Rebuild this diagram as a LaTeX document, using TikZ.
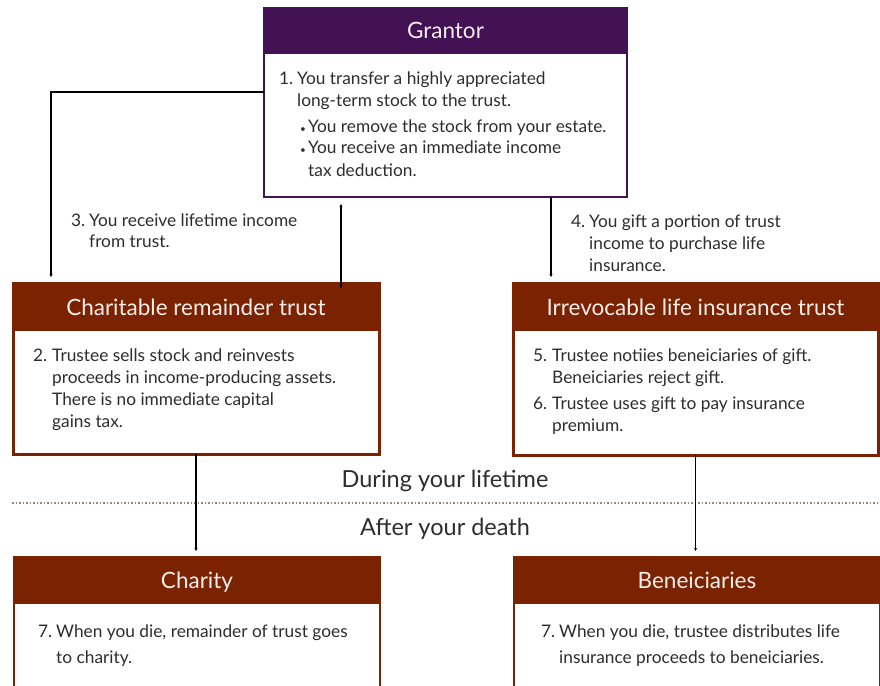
\documentclass[tikz,border=0pt]{standalone}
\usepackage{fontspec}
\setmainfont{Lato}
\usetikzlibrary{arrows.meta,calc}
\definecolor{plum}{RGB}{66,18,85}
\definecolor{rust}{RGB}{123,34,0}
\definecolor{ink}{RGB}{45,45,45}
\definecolor{dotc}{RGB}{150,135,120}
\definecolor{hdtext}{RGB}{245,238,236}
\begin{document}
\begin{tikzpicture}[x=1pt,y=-1pt,
  box/.style={rectangle, anchor=north west, inner sep=0pt, outer sep=0pt, fill=white},
  hdr/.style={rectangle, fill=#1, draw=#1, anchor=north west, inner sep=0pt, outer sep=0pt,
    text=hdtext, font=\fontsize{22.5}{26}\selectfont, text height=18pt, text depth=1pt},
  body/.style={anchor=base west, inner sep=0pt, text=ink, font=\fontsize{17.3}{22}\selectfont},
  mid/.style={anchor=base, inner sep=0pt, text=ink, font=\fontsize{23.5}{26}\selectfont},
  conn/.style={draw=black, line width=1.2pt, shorten >=6pt, -{Stealth[length=3pt,width=3pt]}},
]
\useasboundingbox (0,0) rectangle (880,685);
\clip (0,0) rectangle (880,685);
\fill[white] (0,0) rectangle (880,685);

% Grantor
\node[box, draw=plum, line width=1.5pt, minimum width=363pt, minimum height=189pt] (grant) at (264,8) {};
\node[hdr=plum, minimum width=363pt, minimum height=45pt] (granth) at (264,8) {Grantor};
\node[body] (grantt) at (279,84) {\begin{tabular}[t]{@{}p{18pt}@{}l@{}}
1. & You transfer a highly appreciated\\
   & long-term stock to the trust.\\[4pt]
   & \hspace*{3pt}\makebox[8pt][l]{\fontsize{10}{10}\selectfont\textbullet}You remove the stock from your estate.\\
   & \hspace*{3pt}\makebox[8pt][l]{\fontsize{10}{10}\selectfont\textbullet}You receive an immediate income\\
   & \hspace*{11pt}tax deduction.
\end{tabular}};

% Charitable remainder trust
\node[box, draw=rust, line width=3pt, minimum width=366pt, minimum height=171pt] (crt) at (13,283) {};
\node[hdr=rust, minimum width=366pt, minimum height=47pt] (crth) at (13,283) {Charitable remainder trust};
\node[body] (crtt) at (33,361) {\begin{tabular}[t]{@{}p{19pt}@{}l@{}}
2. & Trustee sells stock and reinvests\\
   & proceeds in income-producing assets.\\
   & There is no immediate capital\\
   & gains tax.
\end{tabular}};

% Irrevocable life insurance trust
\node[box, draw=rust, line width=3pt, minimum width=365pt, minimum height=172pt] (ilit) at (513,283) {};
\node[hdr=rust, minimum width=365pt, minimum height=47pt] (ilith) at (513,283) {Irrevocable life insurance trust};
\node[body] (ilitt) at (533,361) {\begin{tabular}[t]{@{}p{19pt}@{}l@{}}
5. & Trustee notiies beneiciaries of gift.\\
   & Beneiciaries reject gift.\\[4pt]
6. & Trustee uses gift to pay insurance\\
   & premium.
\end{tabular}};

% Charity
\node[box, draw=rust, line width=2pt, minimum width=366pt, minimum height=135pt] (charity) at (14,557) {};
\node[hdr=rust, minimum width=366pt, minimum height=46pt] (charityh) at (14,557) {Charity};
\node[body] (charityt) at (38,637) {\begin{tabular}[t]{@{}p{18pt}@{}l@{}}
7. & When you die, remainder of trust goes\\[4pt]
   & to charity.
\end{tabular}};

% Beneficiaries
\node[box, draw=rust, line width=2pt, minimum width=366pt, minimum height=135pt] (ben) at (514,557) {};
\node[hdr=rust, minimum width=366pt, minimum height=46pt] (benh) at (514,557) {Beneiciaries};
\node[body] (bent) at (541,637) {\begin{tabular}[t]{@{}p{18pt}@{}l@{}}
7. & When you die, trustee distributes life\\[4pt]
   & insurance proceeds to beneiciaries.
\end{tabular}};

% Lifetime divider
\coordinate (dl) at (12,503);
\coordinate (dr) at (880,503);
\draw[dotc, line width=1.5pt, dotted] (dl) -- (dr);
\node[mid] (during) at (445,487) {During your lifetime};
\node[mid] (after) at (445,535) {After your death};

% Connector labels
\node[body] (lab3) at (71,226) {\begin{tabular}[t]{@{}p{18pt}@{}l@{}}
3. & You receive lifetime income\\[-1pt]
   & from trust.
\end{tabular}};
\node[body] (lab4) at (571,227) {\begin{tabular}[t]{@{}p{18pt}@{}l@{}}
4. & You gift a portion of trust\\
   & income to purchase life\\
   & insurance.
\end{tabular}};

% Connectors
\path ([xshift=38pt]crt.north west) coordinate (lfE);
\draw[conn] ([yshift=-84pt]grant.north west) -| (lfE);
\path ([xshift=145pt]crt.north) coordinate (upS);
\draw[conn, shorten >=7pt] ([yshift=-5pt]upS) -- (upS |- grant.south);
\path ([xshift=-144.5pt]ilit.north) coordinate (rtE);
\draw[conn] (rtE |- grant.south) -- (rtE);
\draw[conn] (crt.south) -- (crt.south |- charity.north);
\draw[conn] (ilit.south) -- (ilit.south |- ben.north);
\end{tikzpicture}
\end{document}
